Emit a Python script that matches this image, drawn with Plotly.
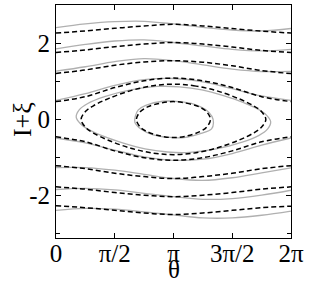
import numpy as np
import plotly.graph_objects as go

PI = np.pi
# sample angles for rotating (open) curves
theta_s = [0, PI/4, PI/2, 3*PI/4, PI, 5*PI/4, 3*PI/2, 7*PI/4, 2*PI]

# rotating orbits: gray (solid) and dashed, values of I+xi read at theta_s
gray_A = [2.42, 2.52, 2.58, 2.59, 2.52, 2.43, 2.36, 2.335, 2.40]
dash_A = [2.28, 2.335, 2.405, 2.467, 2.51, 2.467, 2.40, 2.33, 2.28]
gray_B = [1.86, 1.98, 2.07, 2.10, 2.03, 1.94, 1.85, 1.81, 1.85]
dash_B = [1.765, 1.835, 1.92, 1.99, 2.03, 1.99, 1.91, 1.82, 1.765]
gray_C = [1.275, 1.39, 1.525, 1.605, 1.55, 1.44, 1.33, 1.265, 1.27]
dash_C = [1.215, 1.305, 1.43, 1.515, 1.55, 1.51, 1.415, 1.29, 1.21]
gray_D = [0.50, 0.68, 0.90, 1.05, 1.08, 0.99, 0.81, 0.62, 0.50]
dash_D = [0.47, 0.60, 0.84, 1.02, 1.09, 1.02, 0.84, 0.60, 0.47]
gray_F = [-0.49, -0.62, -0.81, -0.99, -1.08, -1.05, -0.90, -0.68, -0.49]
dash_F = [-0.46, -0.59, -0.83, -1.01, -1.08, -1.01, -0.83, -0.59, -0.46]
gray_G = [-1.27, -1.27, -1.34, -1.45, -1.56, -1.61, -1.54, -1.41, -1.28]
dash_G = [-1.22, -1.30, -1.42, -1.51, -1.56, -1.51, -1.42, -1.30, -1.22]
gray_H = [-1.85, -1.82, -1.86, -1.95, -2.04, -2.11, -2.09, -2.00, -1.87]
dash_H = [-1.78, -1.84, -1.93, -2.00, -2.04, -2.00, -1.93, -1.84, -1.78]
gray_I = [-2.40, -2.35, -2.37, -2.44, -2.52, -2.60, -2.60, -2.53, -2.42]
dash_I = [-2.28, -2.33, -2.40, -2.47, -2.51, -2.47, -2.40, -2.33, -2.29]

# librating orbits (closed), points read around each loop, starting at the top
big_dash_t = [3.14, 3.68, 4.28, 4.88, 5.28, 5.48, 5.61, 5.48, 5.28, 4.88, 4.28, 3.68,
              3.14, 2.60, 2.00, 1.40, 1.00, 0.80, 0.67, 0.80, 1.00, 1.40, 2.00, 2.60, 3.14]
big_dash_v = [0.93, 0.89, 0.76, 0.55, 0.36, 0.22, 0.0, -0.22, -0.36, -0.55, -0.76, -0.89,
              -0.93, -0.89, -0.76, -0.55, -0.36, -0.22, 0.0, 0.22, 0.36, 0.55, 0.76, 0.89, 0.93]

big_gray_t = [2.70, 3.30, 3.90, 4.50, 5.00, 5.40, 5.62, 5.74, 5.66, 5.43, 4.98, 4.28,
              3.58, 2.98, 2.38, 1.78, 1.28, 0.88, 0.66, 0.54, 0.62, 0.85, 1.30, 2.00, 2.70]
big_gray_v = [0.87, 0.86, 0.78, 0.62, 0.45, 0.27, 0.12, -0.06, -0.25, -0.42, -0.60, -0.78,
              -0.87, -0.86, -0.78, -0.62, -0.45, -0.27, -0.12, 0.06, 0.25, 0.42, 0.60, 0.78, 0.87]

small_dash_t = [3.14, 3.48, 3.83, 4.03, 4.13, 4.03, 3.83, 3.48, 3.14, 2.80, 2.45, 2.25,
                2.15, 2.25, 2.45, 2.80, 3.14]
small_dash_v = [0.47, 0.43, 0.33, 0.20, 0.0, -0.20, -0.33, -0.44, -0.48, -0.44, -0.33, -0.20,
                0.0, 0.20, 0.33, 0.43, 0.47]

small_gray_t = [2.86, 3.30, 3.70, 4.00, 4.17, 4.21, 4.16, 3.88, 3.42, 2.98, 2.58, 2.28,
                2.11, 2.12, 2.20, 2.40, 2.86]
small_gray_v = [0.48, 0.47, 0.40, 0.26, 0.08, -0.09, -0.25, -0.37, -0.48, -0.47, -0.40, -0.26,
                -0.08, 0.08, 0.25, 0.37, 0.48]

x_tickvals = [0, PI/2, PI, 3*PI/2, 2*PI]
x_ticktext = ["0", "π/2", "π", "3π/2", "2π"]
y_tickvals = [-2, 0, 2]
y_ticktext = ["-2", "0", "2"]

GRAY = dict(color="#b0b0b0", width=1.3, shape="spline", smoothing=1.0)
DASH = dict(color="black", width=1.5, dash="5px,3px", shape="spline", smoothing=1.0)

fig = go.Figure()
grays = [gray_A, gray_B, gray_C, gray_D, gray_F, gray_G, gray_H, gray_I]
dashes = [dash_A, dash_B, dash_C, dash_D, dash_F, dash_G, dash_H, dash_I]
for g in grays:
    fig.add_trace(go.Scatter(x=theta_s, y=g, mode="lines", line=GRAY, hoverinfo="skip"))
fig.add_trace(go.Scatter(x=big_gray_t, y=big_gray_v, mode="lines", line=GRAY))
fig.add_trace(go.Scatter(x=small_gray_t, y=small_gray_v, mode="lines", line=GRAY))
for d in dashes:
    fig.add_trace(go.Scatter(x=theta_s, y=d, mode="lines", line=DASH, hoverinfo="skip"))
fig.add_trace(go.Scatter(x=big_dash_t, y=big_dash_v, mode="lines", line=DASH))
fig.add_trace(go.Scatter(x=small_dash_t, y=small_dash_v, mode="lines", line=DASH))

fig.update_layout(
    template="none",
    width=309, height=285,
    margin=dict(l=56, r=18, t=5, b=47, autoexpand=False),
    paper_bgcolor="white", plot_bgcolor="white",
    showlegend=False,
    font=dict(family="Liberation Serif", size=25, color="black"),
    annotations=[
        dict(text="θ", x=0.5, y=-0.137, xref="paper", yref="paper",
             xanchor="center", yanchor="middle", showarrow=False,
             font=dict(size=25)),
        dict(text="I+ξ", x=-0.145, y=0.51, xref="paper", yref="paper",
             xanchor="center", yanchor="middle", textangle=-90, showarrow=False,
             font=dict(size=26)),
    ],
)
fig.update_xaxes(
    range=[0, 2*PI], tickvals=x_tickvals, ticktext=x_ticktext,
    ticks="inside", ticklen=5, tickcolor="black", automargin=False,
    ticklabelstandoff=-7,
    showline=True, linecolor="black", linewidth=1, mirror="ticks",
    showgrid=False, zeroline=False,
)
fig.update_yaxes(
    range=[-3.13, 3.02], tickvals=y_tickvals, ticktext=y_ticktext,
    ticks="inside", ticklen=5, tickcolor="black", automargin=False,
    minor=dict(dtick=1, tick0=1, ticks="inside", ticklen=4, tickcolor="black"),
    showline=True, linecolor="black", linewidth=1, mirror="ticks",
    showgrid=False, zeroline=False,
)
fig.write_html("out.html", config={"displayModeBar": False},
               post_script="document.body.style.margin='0';document.body.style.overflow='hidden';")
